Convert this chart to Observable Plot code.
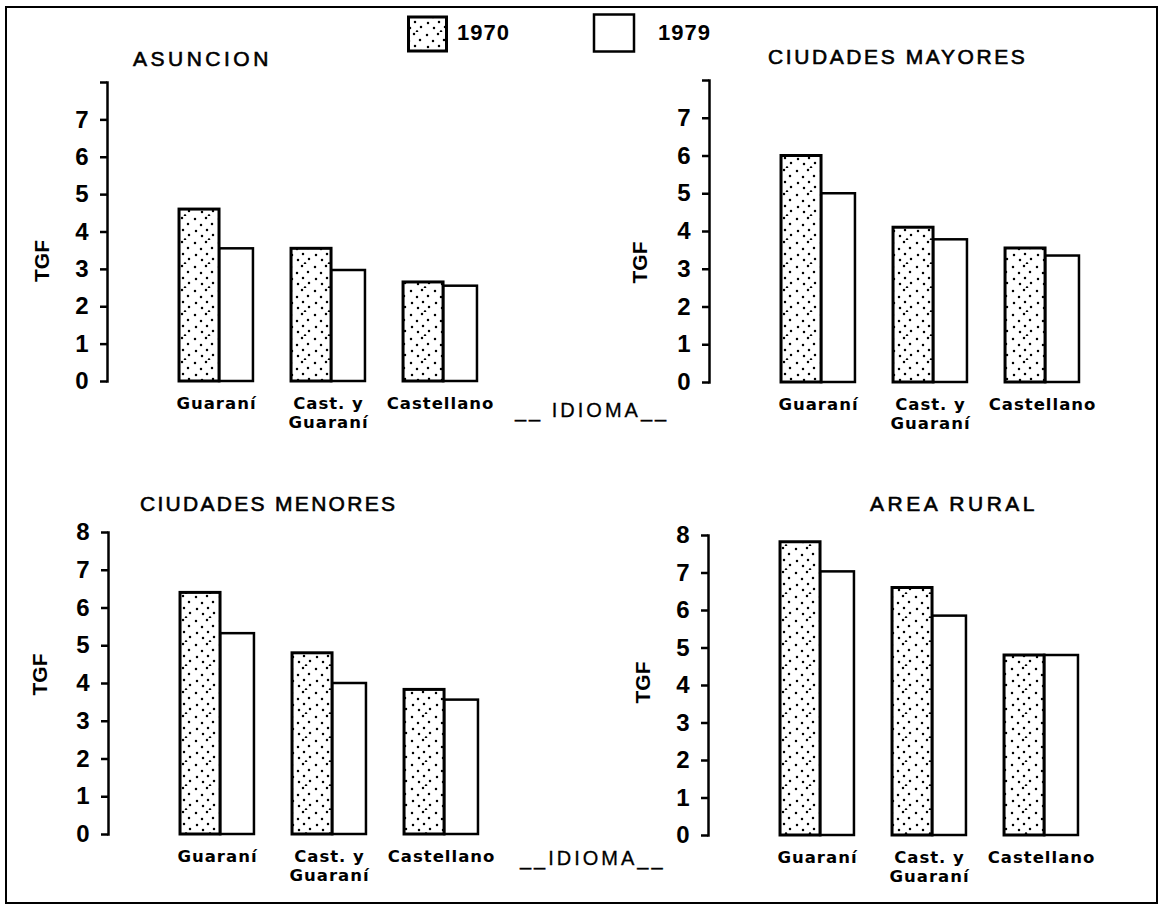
<!DOCTYPE html>
<html>
<head>
<meta charset="utf-8">
<script src="https://cdn.jsdelivr.net/npm/d3@7"></script>
<script src="https://cdn.jsdelivr.net/npm/@observablehq/plot@0.6"></script>
<style>
  html, body { margin: 0; padding: 0; background: #fff; }
  #page { position: relative; width: 1162px; height: 908px; background: #fff; overflow: hidden; }
  .abs { position: absolute; white-space: pre; color: #000; }
  .title { font-family: "Liberation Sans", Arial, sans-serif; font-size: 21px; line-height: 24px; -webkit-text-stroke: 0.6px #000; }
  .idioma { font-family: "Liberation Sans", Arial, sans-serif; font-size: 20px; line-height: 24px; letter-spacing: 3px; -webkit-text-stroke: 0.3px #000; }
  .legtext { font-family: "Liberation Sans", Arial, sans-serif; font-size: 22px; font-weight: bold; line-height: 24px; letter-spacing: 1px; }
  #border { position: absolute; left: 5px; top: 6px; width: 1153px; height: 898px; box-sizing: border-box; border: 2px solid #000; z-index: 5; pointer-events: none; }
</style>
</head>
<body>
<div id="page">
  <div id="border"></div>
</div>
<script>
// ---- data ----
const idiomas = ["Guaraní", "Cast. y\nGuaraní", "Castellano"];
const years = ["1970", "1979"];
const asuncion1970 = [4.6, 3.55, 2.65];
const asuncion1979 = [3.55, 2.97, 2.55];
const mayores1970 = [6.0, 4.1, 3.55];
const mayores1979 = [5.0, 3.78, 3.35];
const menores1970 = [6.4, 4.8, 3.83];
const menores1979 = [5.32, 4.0, 3.56];
const rural1970 = [7.82, 6.6, 4.8];
const rural1979 = [7.03, 5.85, 4.8];
const yTicks = [0, 1, 2, 3, 4, 5, 6, 7, 8];
const topTickLabels = [0, 1, 2, 3, 4, 5, 6, 7];
const bottomTickLabels = [0, 1, 2, 3, 4, 5, 6, 7, 8];
const panelTitles = ["ASUNCION", "CIUDADES MAYORES", "CIUDADES MENORES", "AREA RURAL"];
const axisTitle = "TGF";
const idiomaLabel = "__ IDIOMA__";
const idiomaLabel2 = "__IDIOMA__";

// ---- styling constants ----
const dotTile = [[3,3],[14,2],[9,9],[20,8],[4,15],[15,14],[10,20],[21,19],[17,23.5]];
const page = document.getElementById("page");

function addPattern(svgNode, id) {
  const defs = d3.select(svgNode).insert("defs", ":first-child");
  const p = defs.append("pattern").attr("id", id)
    .attr("patternUnits", "userSpaceOnUse").attr("width", 24).attr("height", 24);
  p.append("rect").attr("width", 24).attr("height", 24).attr("fill", "#fff");
  dotTile.forEach(([x, y]) => p.append("circle").attr("cx", x).attr("cy", y).attr("r", 1.25).attr("fill", "#000"));
}

const W = 560, ML = 107, MR = 11, PI = 0.34, PO = 0.643;
const step = (W - ML - MR) / (idiomas.length - PI + 2 * PO);
const bw = step * (1 - PI);
const w1970 = 40;

function panel(v70, v79, cfg) {
  const rows = idiomas.map((idioma, i) => ({idioma, v70: v70[i], v79: v79[i]}));
  const pid = "dots-" + cfg.id;
  const svg = Plot.plot({
    width: W,
    height: cfg.height,
    marginLeft: ML,
    marginRight: MR,
    marginTop: cfg.marginTop,
    marginBottom: cfg.marginBottom,
    style: {background: "transparent", color: "#000"},
    x: {domain: idiomas, paddingInner: PI, paddingOuter: PO, round: false},
    y: {domain: [0, 8]},
    marks: [
      Plot.frame({anchor: "left", stroke: "#000", strokeWidth: 2.5}),
      Plot.axisY({ticks: yTicks, tickSize: 7, tickPadding: 12, strokeWidth: 2.5, label: null,
        tickFormat: d => cfg.labels.includes(d) ? String(d) : "",
        fontSize: 24, fontWeight: "bold", fontFamily: "Liberation Sans, Arial, sans-serif"}),
      Plot.axisX({tickSize: 0, tickPadding: 13, label: null, lineHeight: 1.2,
        fontSize: 16.5, fontWeight: "bold", fontFamily: "DejaVu Sans, sans-serif"}),
      Plot.barY(rows, {x: "idioma", y: "v79", fill: "#fff", stroke: "#000", strokeWidth: 2.5,
        insetLeft: w1970, insetRight: 0}),
      Plot.barY(rows, {x: "idioma", y: "v70", fill: `url(#${pid})`, stroke: "#000", strokeWidth: 3,
        insetLeft: 0, insetRight: bw - w1970}),
      Plot.text([axisTitle], {frameAnchor: "left", rotate: -90, dx: cfg.tgfDx, dy: cfg.tgfDy,
        fontSize: 21, fontWeight: "bold", fontFamily: "Liberation Sans, Arial, sans-serif"})
    ]
  });
  addPattern(svg, pid);
  svg.style.position = "absolute";
  svg.style.left = cfg.left + "px";
  svg.style.top = cfg.top + "px";
  svg.style.maxWidth = "none";
  page.appendChild(svg);
  return svg;
}

const tl = panel(asuncion1970, asuncion1979, {id: "tl", left: 0, top: 0, height: 450, marginTop: 82, marginBottom: 69, labels: topTickLabels, tgfDx: -65, tgfDy: 50});
const tr = panel(mayores1970, mayores1979, {id: "tr", left: 602, top: 0, height: 450, marginTop: 80, marginBottom: 68, labels: topTickLabels, tgfDx: -69, tgfDy: 52});
const bl = panel(menores1970, menores1979, {id: "bl", left: 1, top: 450, height: 450, marginTop: 82, marginBottom: 66, labels: bottomTickLabels, tgfDx: -68, tgfDy: 12});
const br = panel(rural1970, rural1979, {id: "br", left: 601, top: 450, height: 450, marginTop: 85, marginBottom: 65, labels: bottomTickLabels, tgfDx: -65, tgfDy: 18});

// x tick label letter spacing
[tl, tr, bl, br].forEach(s => {
  s.querySelectorAll("g[aria-label='x-axis tick label'] text").forEach(t => t.setAttribute("letter-spacing", "1"));
});

function addText(txt, cls, left, top, extra) {
  const d = document.createElement("div");
  d.className = "abs " + cls;
  d.textContent = txt;
  d.style.left = left + "px";
  d.style.top = top + "px";
  if (extra) Object.assign(d.style, extra);
  page.appendChild(d);
  return d;
}

addText(panelTitles[0], "title", 133, 47, {letterSpacing: "3.5px"});
addText(panelTitles[1], "title", 768, 45, {letterSpacing: "2.6px"});
addText(panelTitles[2], "title", 140, 492, {letterSpacing: "2.3px"});
addText(panelTitles[3], "title", 870, 492, {letterSpacing: "3.5px"});
addText(idiomaLabel, "idioma", 515, 398);
addText(idiomaLabel2, "idioma", 520, 846);

// legend
const leg = d3.select(page).append("svg")
  .style("position", "absolute").style("left", "400px").style("top", "8px")
  .attr("width", 250).attr("height", 52);
const ldefs = leg.append("defs").append("pattern").attr("id", "dots-leg")
  .attr("patternUnits", "userSpaceOnUse").attr("width", 24).attr("height", 24);
ldefs.append("rect").attr("width", 24).attr("height", 24).attr("fill", "#fff");
dotTile.forEach(([x, y]) => ldefs.append("circle").attr("cx", x).attr("cy", y).attr("r", 1.25).attr("fill", "#000"));
leg.append("rect").attr("x", 8.5).attr("y", 9).attr("width", 38).attr("height", 34)
  .attr("fill", "url(#dots-leg)").attr("stroke", "#000").attr("stroke-width", 3);
leg.append("rect").attr("x", 194).attr("y", 6.5).attr("width", 40).attr("height", 37)
  .attr("fill", "#fff").attr("stroke", "#000").attr("stroke-width", 2.5);
addText(years[0], "legtext", 457, 21);
addText(years[1], "legtext", 658, 21);
</script>
</body>
</html>
